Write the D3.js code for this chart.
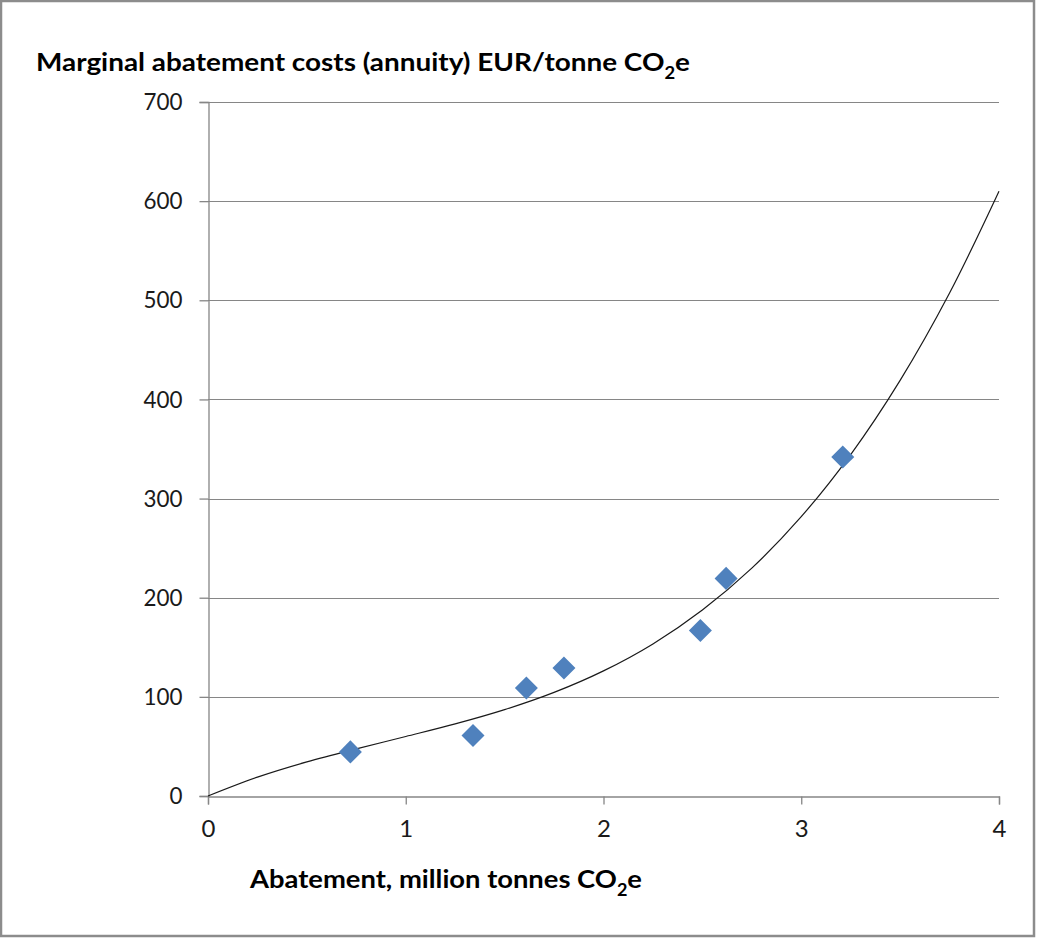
<!DOCTYPE html>
<html>
<head>
<meta charset="utf-8">
<script src="https://cdn.jsdelivr.net/npm/d3@7"></script>
<style>
  html, body { margin: 0; padding: 0; background: #fff; }
  svg { display: block; }
  text { font-family: Lato, "Open Sans", sans-serif; }
</style>
</head>
<body>
<svg id="chart" width="1037" height="941"></svg>
<script>
// Observed abatement options: abatement (Mt CO2e) vs. marginal cost (EUR/t CO2e)
const abatement = [0.72, 1.34, 1.61, 1.80, 2.49, 2.62, 3.21];
const marginalCost = [44.5, 61, 109, 129, 167, 219.5, 342];

// Polynomial trendline, sampled along the x axis
const trendX = [0, 0.25, 0.5, 0.75, 1, 1.25, 1.5, 1.75, 2, 2.25, 2.5, 2.75, 3, 3.25, 3.5, 3.75, 4];
const trendY = [0, 19, 34.4, 47.6, 60, 72.7, 87.1, 104.5, 126.2, 153.4, 187.6, 229.9, 281.8, 344.4, 419.2, 507.3, 610];

// Axis ticks
const xTicks = [0, 1, 2, 3, 4];
const yTicks = [0, 100, 200, 300, 400, 500, 600, 700];

const svg = d3.select("#chart");
const W = 1037, H = 941;
const axisColor = "#868686";
const markerColor = "#4F81BD";

// outer frame
svg.append("rect")
  .attr("x", 1).attr("y", 1).attr("width", W - 4).attr("height", H - 6)
  .attr("fill", "#fff").attr("stroke", "#8c8c8c").attr("stroke-width", 2.5);

const plot = { left: 208, right: 999, top: 102, bottom: 796 };
const x = d3.scaleLinear().domain([0, 4]).range([plot.left, plot.right]);
const y = d3.scaleLinear().domain([0, 700]).range([plot.bottom, plot.top]);

// horizontal gridlines
svg.append("g").selectAll("line").data(yTicks.filter(t => t > 0)).join("line")
  .attr("x1", plot.left).attr("x2", plot.right)
  .attr("y1", d => Math.round(y(d)) + 0.5).attr("y2", d => Math.round(y(d)) + 0.5)
  .attr("stroke", axisColor).attr("stroke-width", 1);

// y axis
const yAxis = svg.append("g")
  .attr("transform", `translate(${plot.left + 0.5},0)`)
  .call(d3.axisLeft(y).tickValues(yTicks).tickSize(9).tickPadding(17).tickFormat(d3.format("d")));
yAxis.select(".domain").attr("stroke", axisColor).attr("stroke-width", 1.3);
yAxis.selectAll(".tick line").attr("stroke", axisColor).attr("stroke-width", 1.3);
yAxis.selectAll(".tick text")
  .attr("font-family", "Lato, 'Open Sans', sans-serif")
  .attr("font-size", 24).attr("fill", "#1a1a1a")
  .attr("textLength", d => String(d).length * 13).attr("lengthAdjust", "spacingAndGlyphs");

// x axis
const xAxis = svg.append("g")
  .attr("transform", `translate(0,${plot.bottom + 0.5})`)
  .call(d3.axisBottom(x).tickValues(xTicks).tickSize(8).tickPadding(15).tickFormat(d3.format("d")));
xAxis.select(".domain").attr("stroke", axisColor).attr("stroke-width", 1.3);
xAxis.selectAll(".tick line").attr("stroke", axisColor).attr("stroke-width", 1.3);
xAxis.selectAll(".tick text")
  .attr("font-family", "Lato, 'Open Sans', sans-serif")
  .attr("font-size", 24).attr("fill", "#1a1a1a");

// trendline
const trend = trendX.map((v, i) => [v, trendY[i]]);
svg.append("path")
  .datum(trend)
  .attr("fill", "none").attr("stroke", "#1a1a1a").attr("stroke-width", 1.2)
  .attr("d", d3.line().x(d => x(d[0])).y(d => y(d[1])).curve(d3.curveCatmullRom));

// diamond markers
const diamond = d3.symbol().type(d3.symbolSquare).size(265);
svg.append("g").selectAll("path").data(abatement.map((v, i) => [v, marginalCost[i]])).join("path")
  .attr("d", diamond)
  .attr("transform", d => `translate(${x(d[0])},${y(d[1])}) rotate(45)`)
  .attr("fill", markerColor);

// bold label with a CO2 subscript, fitted to a given width
function subText(xPos, yBase, main, tail, size, targetW) {
  const t = svg.append("text")
    .attr("x", xPos).attr("y", yBase)
    .attr("font-weight", "bold").attr("font-size", size).attr("fill", "#000")
    .attr("textLength", targetW).attr("lengthAdjust", "spacingAndGlyphs");
  t.append("tspan").text(main);
  t.append("tspan").attr("font-size", size * 0.66).attr("dy", size * 0.32).text("2");
  t.append("tspan").attr("dy", -size * 0.32).text(tail);
  return t;
}

subText(36, 71, "Marginal abatement costs (annuity) EUR/tonne CO", "e", 25, 654);
subText(250, 888, "Abatement, million tonnes CO", "e", 25, 392);
</script>
</body>
</html>
